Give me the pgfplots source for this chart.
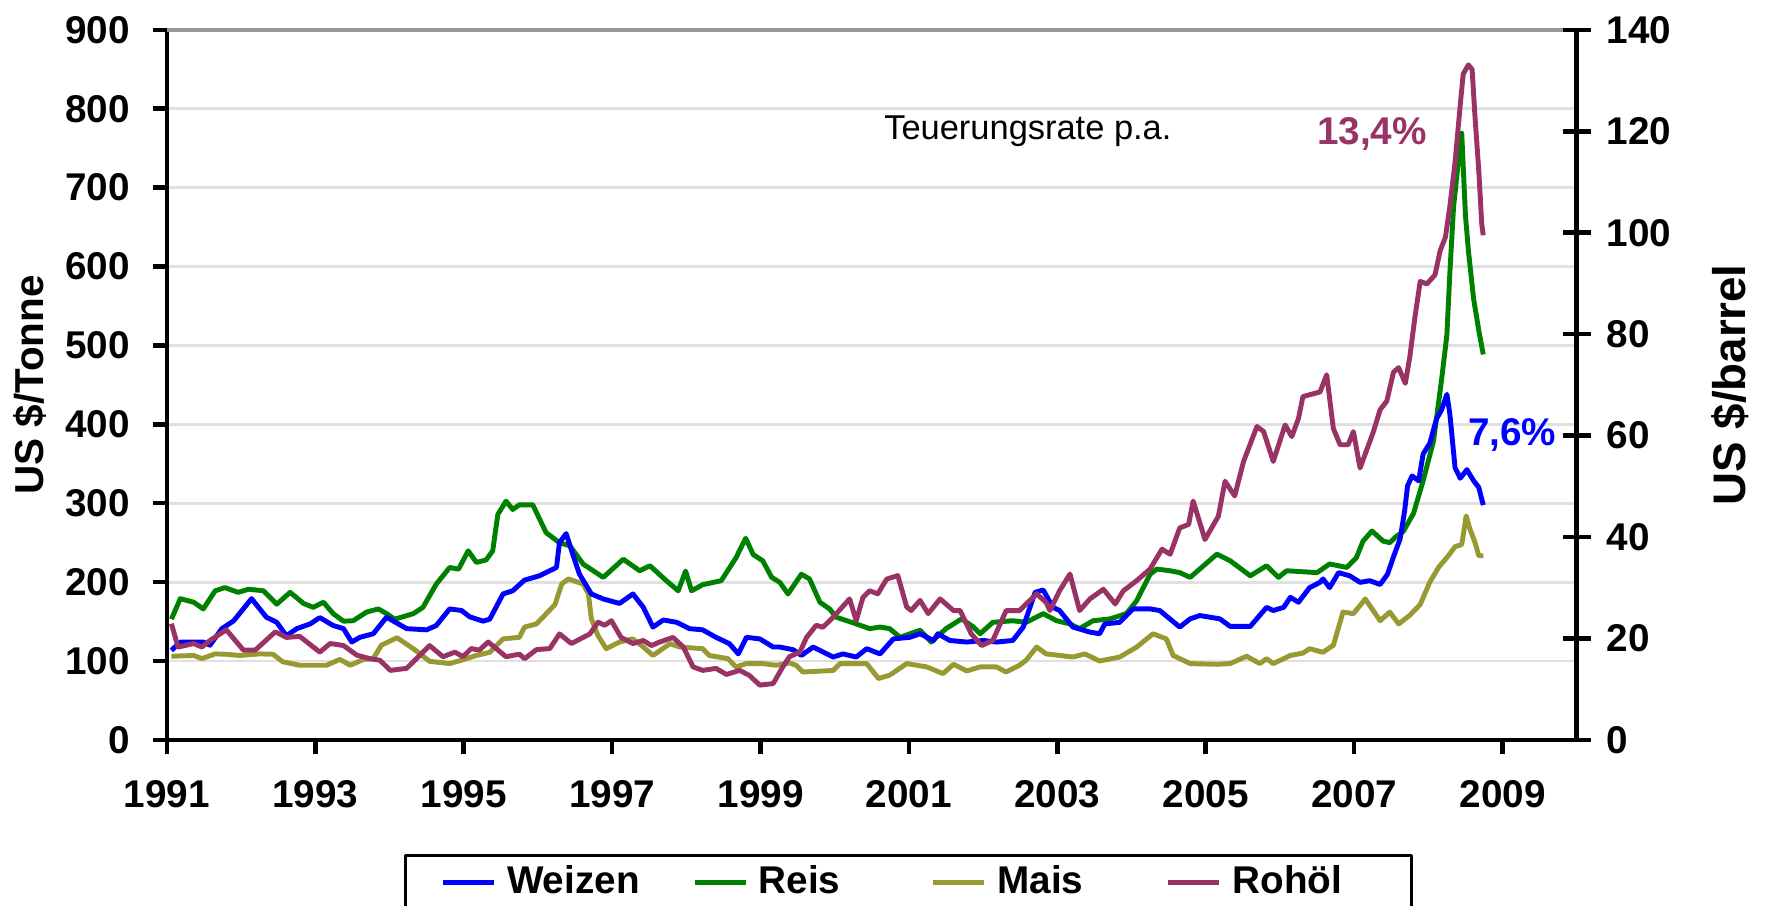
\documentclass[border=0pt]{standalone}
\usepackage{fontspec}
\setmainfont{Liberation Sans}
\usepackage{pgfplots}
\pgfplotsset{compat=1.18}
\definecolor{weizen}{RGB}{0,0,255}
\definecolor{reis}{RGB}{0,128,0}
\definecolor{mais}{RGB}{153,153,51}
\definecolor{rohoel}{RGB}{153,51,102}
\begin{document}
\begin{tikzpicture}
\begin{axis}[
  at={(0,0)}, anchor=south west,
  scale only axis, width=401.1pt, height=202pt,
  xmin=1991, xmax=2010, ymin=0, ymax=900,
  axis x line*=bottom, axis y line*=left,
  axis line style={-, black, line width=1.3pt},
  xtick={1991,1993,...,2009}, ytick={0,100,...,900},
  tick align=outside, major tick length=4pt,
  tick style={black, line width=1.3pt},
  ymajorgrids, grid style={color=black!12, line width=0.8pt},
  /pgf/number format/assume math mode=true,
  /pgf/number format/1000 sep={},
  ticklabel style={font=\bfseries\fontsize{11}{11}\selectfont},
  xticklabel style={yshift=-4pt},
  yticklabel style={xshift=-3pt},
  ylabel={US \$/Tonne},
  every axis y label/.style={at={(axis description cs:-0.0972,0.5)}, rotate=90, anchor=center, font=\bfseries\fontsize{11.5}{11.5}\selectfont},
  clip=false,
  line join=round,
]
\draw[color=black!40, line width=1pt] (axis cs:1991,900) -- (axis cs:2010,900);
% Reis
\addplot[reis, line width=1.4pt] coordinates {
(1991.06,153) (1991.18,179) (1991.36,174.5) (1991.49,166) (1991.65,189) (1991.78,193) (1991.96,187) (1992.10,191) (1992.30,189) (1992.48,172) (1992.66,187) (1992.84,173) (1992.97,168) (1993.11,174.5) (1993.24,160) (1993.38,150.5) (1993.51,151) (1993.69,162) (1993.85,166) (1993.96,160) (1994.07,153) (1994.32,160) (1994.45,168) (1994.63,197.5) (1994.81,218.5) (1994.93,216.5) (1995.06,239.6) (1995.17,225) (1995.30,228) (1995.39,239.6) (1995.46,286) (1995.57,302.6) (1995.66,292) (1995.75,298) (1995.93,298) (1996.11,262.7) (1996.29,250) (1996.43,246) (1996.61,222.8) (1996.88,206) (1997.15,229) (1997.37,214.4) (1997.51,220.7) (1997.73,201.8) (1997.89,189) (1997.99,214) (1998.07,189) (1998.22,196.7) (1998.47,201.8) (1998.67,231) (1998.80,255.6) (1998.90,235) (1999.03,227) (1999.15,206) (1999.26,199.7) (1999.37,185) (1999.55,210) (1999.66,204) (1999.80,174.5) (1999.93,166) (2000.02,155.5) (2000.29,147) (2000.47,141) (2000.61,143) (2000.74,141) (2000.88,130) (2001.15,139) (2001.30,124) (2001.50,141) (2001.71,153.4) (2001.87,143) (2001.96,134.5) (2002.13,149) (2002.40,151) (2002.58,149) (2002.81,160) (2002.99,151) (2003.17,147) (2003.30,141) (2003.48,151) (2003.71,153.4) (2003.93,160) (2004.07,176.5) (2004.25,210) (2004.34,216.5) (2004.52,214.4) (2004.65,212) (2004.79,206) (2005.15,235.4) (2005.33,227) (2005.60,208) (2005.82,220.7) (2005.98,206) (2006.09,214.4) (2006.50,212) (2006.67,223) (2006.90,218.6) (2007.03,231) (2007.12,252) (2007.24,264.8) (2007.39,252) (2007.48,250) (2007.57,258) (2007.66,264) (2007.80,287) (2007.93,328.5) (2008.07,379) (2008.18,457.7) (2008.25,513.6) (2008.29,592) (2008.34,676) (2008.41,738) (2008.45,769) (2008.50,665) (2008.54,620) (2008.61,559) (2008.68,519) (2008.74,488.6)
};
% Mais
\addplot[mais, line width=1.4pt] coordinates {
(1991.06,106) (1991.36,107) (1991.47,103) (1991.65,109) (1991.80,108.5) (1991.98,107) (1992.25,109) (1992.43,108.5) (1992.56,99) (1992.79,94.6) (1993.15,94.6) (1993.33,102) (1993.47,94.6) (1993.65,102) (1993.78,103) (1993.89,120) (1994.10,129.5) (1994.32,115.6) (1994.54,99.6) (1994.81,96.7) (1994.97,101) (1995.17,107) (1995.35,111) (1995.53,128) (1995.75,130) (1995.82,143) (1995.98,147) (1996.23,171.5) (1996.32,197.6) (1996.41,204) (1996.61,197.6) (1996.68,185) (1996.72,153.4) (1996.81,132) (1996.92,115.6) (1997.10,124) (1997.28,128) (1997.42,117.7) (1997.55,107) (1997.78,122) (1997.91,117.7) (1998.22,115.6) (1998.31,107) (1998.56,103) (1998.67,92.5) (1998.81,96.7) (1999.03,96.7) (1999.21,94.6) (1999.39,97.5) (1999.48,94.6) (1999.57,86) (1999.98,88) (2000.07,96.7) (2000.43,96.7) (2000.59,77.8) (2000.74,82) (2000.97,96.7) (2001.24,92.5) (2001.46,84) (2001.60,95.8) (2001.78,87.4) (2001.96,92.5) (2002.18,92.5) (2002.31,86) (2002.49,94.6) (2002.58,101) (2002.72,117.7) (2002.85,109) (2003.21,105) (2003.37,109) (2003.57,100) (2003.84,105) (2004.07,117.7) (2004.29,134.5) (2004.47,128) (2004.56,107) (2004.79,96.7) (2005.15,95.8) (2005.33,96.7) (2005.55,106) (2005.73,96.7) (2005.82,103) (2005.91,96.7) (2006.14,107) (2006.31,110) (2006.40,115.6) (2006.58,111) (2006.72,120) (2006.85,162) (2006.99,160) (2007.15,178.6) (2007.35,151) (2007.48,162) (2007.60,147) (2007.75,158) (2007.89,171.6) (2008.02,200) (2008.14,219) (2008.27,233.4) (2008.36,245) (2008.45,247.5) (2008.51,284) (2008.56,267.4) (2008.63,250) (2008.68,233.4) (2008.74,233.4)
};
% Weizen
\addplot[weizen, line width=1.4pt] coordinates {
(1991.06,113.5) (1991.18,124) (1991.49,124) (1991.58,120) (1991.74,141) (1991.90,151) (1992.14,179) (1992.34,155.5) (1992.48,149) (1992.61,132) (1992.75,141) (1992.93,147) (1993.06,155) (1993.24,145) (1993.38,141) (1993.49,124) (1993.60,130) (1993.78,134.5) (1993.96,155.5) (1994.23,141) (1994.50,139.5) (1994.63,145) (1994.81,166) (1994.97,164) (1995.08,156) (1995.26,150.5) (1995.35,153) (1995.53,185) (1995.66,189) (1995.82,202.6) (1996.02,208) (1996.25,218.6) (1996.29,250) (1996.38,261.5) (1996.47,235) (1996.56,210) (1996.72,185) (1996.88,178.6) (1997.10,173) (1997.28,185) (1997.42,168) (1997.55,143) (1997.69,152) (1997.87,149) (1998.04,141) (1998.22,139.5) (1998.40,130) (1998.58,122) (1998.70,109) (1998.81,130) (1998.99,128) (1999.17,117.7) (1999.26,117.7) (1999.44,114.3) (1999.55,107) (1999.71,117.7) (1999.98,105) (2000.11,109) (2000.29,105) (2000.43,115.6) (2000.61,109) (2000.79,128) (2001.01,130) (2001.15,134.5) (2001.33,126) (2001.39,134.5) (2001.55,126) (2001.78,124) (2002.00,126) (2002.18,124) (2002.40,126) (2002.54,143) (2002.70,187) (2002.81,190) (2002.94,168) (2003.03,164) (2003.21,143) (2003.44,136.6) (2003.57,134.5) (2003.64,147) (2003.84,149) (2004.02,166) (2004.25,166) (2004.38,164) (2004.65,143) (2004.79,153.4) (2004.92,157.6) (2005.19,153.4) (2005.33,143.8) (2005.60,143.8) (2005.82,168) (2005.91,164) (2006.05,168) (2006.14,180.7) (2006.25,174.5) (2006.40,193) (2006.54,199.7) (2006.58,204) (2006.67,193) (2006.79,212) (2006.94,208) (2007.08,199.7) (2007.21,201.8) (2007.35,197) (2007.45,210) (2007.53,232) (2007.62,255) (2007.68,290) (2007.72,322) (2007.78,334.5) (2007.87,328.5) (2007.93,362.5) (2008.02,376) (2008.11,407) (2008.18,418.5) (2008.25,438) (2008.29,413) (2008.36,345) (2008.43,331.6) (2008.52,342.6) (2008.61,328.5) (2008.68,320) (2008.74,297.6)
};
\node[anchor=west, font=\fontsize{9.8}{10}\selectfont] at (axis cs:2000.5,772) {Teuerungsrate p.a.};
\node[font=\bfseries\fontsize{11}{11}\selectfont, text=rohoel] at (axis cs:2007.24,768) {13,4\%};
\node[font=\bfseries\fontsize{11}{11}\selectfont, text=weizen] at (axis cs:2009.13,387) {7,6\%};
\end{axis}
\begin{axis}[
  at={(0,0)}, anchor=south west,
  scale only axis, width=401.1pt, height=202pt,
  xmin=1991, xmax=2010, ymin=0, ymax=140,
  axis x line=none, axis y line*=right,
  axis line style={-, black, line width=1.3pt},
  ytick={0,20,...,140},
  tick align=center, major tick length=8pt,
  tick style={black, line width=1.3pt},
  /pgf/number format/assume math mode=true,
  ticklabel style={font=\bfseries\fontsize{11}{11}\selectfont},
  yticklabel style={xshift=1pt},
  ylabel={US \$/barrel},
  every axis y label/.style={at={(axis description cs:1.109,0.5)}, rotate=90, anchor=center, font=\bfseries\fontsize{13}{13}\selectfont},
  clip=false,
  line join=round,
  legend columns=4,
  legend style={at={(0.168,-0.1605)}, anchor=north west, draw=black, line width=0.8pt, font=\bfseries\fontsize{11}{11}\selectfont, inner xsep=10pt, inner ysep=1pt, /tikz/every odd column/.append style={column sep=1pt}},
  legend image code/.code={\draw[#1, line width=1.5pt] (0pt,0pt) -- (14.5pt,0pt);},
]
\addlegendimage{weizen}
\addlegendentry{\makebox[50.6pt][l]{Weizen}}
\addlegendimage{reis}
\addlegendentry{\makebox[46.9pt][l]{Reis}}
\addlegendimage{mais}
\addlegendentry{\makebox[45.9pt][l]{Mais}}
\addplot[rohoel, line width=1.4pt] coordinates {
(1991.06,22.9) (1991.15,18.3) (1991.36,19) (1991.47,18.3) (1991.58,19.6) (1991.80,21.7) (1992.03,17.7) (1992.19,17.7) (1992.46,21.3) (1992.61,20.2) (1992.79,20.4) (1993.06,17.3) (1993.20,19) (1993.38,18.6) (1993.56,16.7) (1993.74,16) (1993.87,15.7) (1994.01,13.7) (1994.23,14.1) (1994.54,18.6) (1994.72,16.4) (1994.88,17.3) (1994.99,16.4) (1995.10,18) (1995.21,17.7) (1995.33,19.3) (1995.57,16.4) (1995.75,16.9) (1995.82,16) (1995.98,17.8) (1996.16,18) (1996.29,20.9) (1996.45,19) (1996.61,20.2) (1996.70,20.9) (1996.81,23.2) (1996.90,22.6) (1996.99,23.5) (1997.12,20.2) (1997.28,19) (1997.42,19.6) (1997.53,18.6) (1997.64,19.3) (1997.82,20.2) (1997.96,18.3) (1998.09,14.4) (1998.22,13.7) (1998.40,14.1) (1998.54,12.9) (1998.72,13.7) (1998.85,12.7) (1998.99,10.8) (1999.17,11.1) (1999.30,14.4) (1999.39,16.4) (1999.53,17.3) (1999.62,20.2) (1999.75,22.6) (1999.84,22.2) (1999.98,24.2) (2000.20,27.8) (2000.29,23.5) (2000.38,28.1) (2000.47,29.4) (2000.58,28.8) (2000.70,31.7) (2000.85,32.4) (2000.97,26.2) (2001.03,25.5) (2001.15,27.5) (2001.26,24.9) (2001.42,27.8) (2001.60,25.5) (2001.69,25.5) (2001.84,20.9) (2001.98,18.6) (2002.13,19.6) (2002.31,25.5) (2002.49,25.5) (2002.72,28.8) (2002.85,27.1) (2002.90,25.5) (2003.03,29.4) (2003.17,32.7) (2003.30,25.5) (2003.44,27.8) (2003.62,29.7) (2003.78,26.8) (2003.89,29.4) (2004.07,31.4) (2004.25,33.7) (2004.41,37.6) (2004.52,36.6) (2004.65,41.8) (2004.77,42.5) (2004.83,47.1) (2004.99,39.5) (2005.17,44.1) (2005.26,51) (2005.39,48.1) (2005.51,54.9) (2005.69,61.8) (2005.78,60.8) (2005.91,54.9) (2006.07,62.1) (2006.16,59.8) (2006.25,63.4) (2006.31,67.7) (2006.54,68.6) (2006.63,72) (2006.72,61.4) (2006.81,58.2) (2006.92,58.2) (2006.99,60.8) (2007.08,53.6) (2007.26,60.8) (2007.35,65.1) (2007.44,66.8) (2007.53,72.5) (2007.60,73.4) (2007.69,70.3) (2007.75,75.5) (2007.82,83.4) (2007.89,90.4) (2007.98,89.9) (2008.09,91.7) (2008.16,96.5) (2008.23,99.1) (2008.29,105.2) (2008.36,113.9) (2008.43,125.2) (2008.47,131.3) (2008.54,133.1) (2008.59,132.2) (2008.63,122.6) (2008.68,112.2) (2008.72,101.7) (2008.74,99.5)
};
\addlegendentry{\makebox[39pt][l]{Rohöl}}
\end{axis}
\pgfresetboundingbox
\useasboundingbox (-47.5pt,-47.2pt) rectangle (455.8pt,210.5pt);
\end{tikzpicture}
\end{document}
